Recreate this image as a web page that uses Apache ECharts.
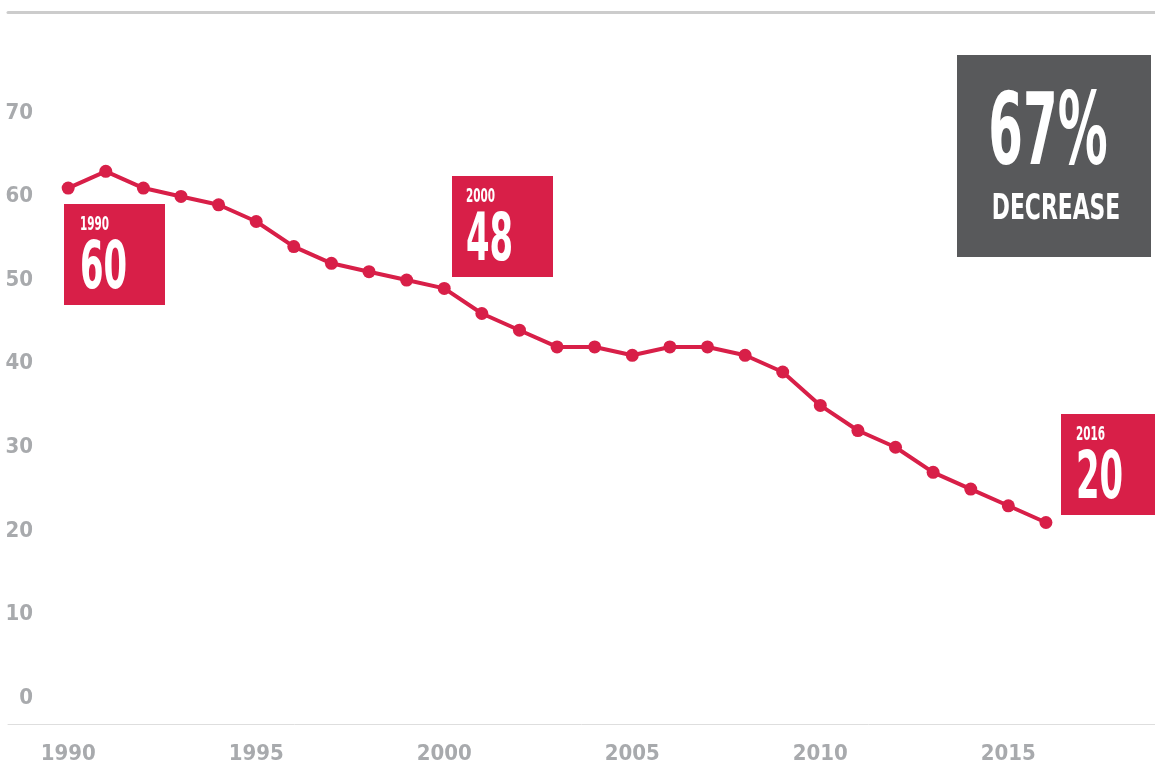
<!DOCTYPE html>
<html lang="en">
<head>
<meta charset="utf-8">
<title>Decrease 1990-2016</title>
<script src="https://cdn.jsdelivr.net/npm/echarts@6/dist/echarts.min.js"></script>
<style>
    html, body { margin: 0; padding: 0; background: #fff; }
    .chart_main { width: 1155px; height: 766px; }
</style>
</head>
<body>
<div class="chart_main"></div>

<script type="text/javascript">
    let years = [1990, 1991, 1992, 1993, 1994, 1995, 1996, 1997, 1998, 1999, 2000, 2001, 2002,
                 2003, 2004, 2005, 2006, 2007, 2008, 2009, 2010, 2011, 2012, 2013, 2014, 2015, 2016];
    let values = [61, 63, 61, 60, 59, 57, 54, 52, 51, 50, 49, 46, 44,
                  42, 42, 41, 42, 42, 41, 39, 35, 32, 30, 27, 25, 23, 21];
    let xTickLabels = [1990, 1995, 2000, 2005, 2010, 2015];
    let yTickLabels = [0, 10, 20, 30, 40, 50, 60, 70];

    let RED = '#d81f48';
    let GREY_BOX = '#58595b';
    let LABEL_GREY = '#a8aaad';
    let FONT = '"DejaVu Sans Condensed", "Liberation Sans Narrow", sans-serif';

    let lineData = years.map((y, i) => [y, values[i]]);

    // condensed white text inside a box (squeezed horizontally)
    function boxText(x, y, text, size, sx, align) {
        return {
            type: 'group',
            x: x,
            y: y,
            scaleX: sx,
            children: [{
                type: 'text',
                style: {
                    text: text,
                    font: 'bold ' + size + 'px ' + FONT,
                    fill: '#fff',
                    align: align || 'left',
                    verticalAlign: 'top'
                }
            }]
        };
    }

    let Chart = echarts.init(document.getElementsByClassName('chart_main')[0]);

    let option = {
        animation: false,
        grid: {
            left: 8,
            right: 0,
            top: 12.5,
            bottom: 42,
            outerBoundsMode: 'none'
        },
        xAxis: [{
            type: 'value',
            min: 1988.4,
            max: 2018.9,
            axisLine: { show: true, onZero: false, lineStyle: { color: '#dedede', width: 1 } },
            axisTick: { show: false },
            splitLine: { show: false },
            axisLabel: {
                customValues: xTickLabels,
                formatter: (v) => String(v),
                color: LABEL_GREY,
                fontFamily: FONT,
                fontWeight: 'bold',
                fontSize: 22,
                margin: 19
            }
        }, {
            type: 'value',
            position: 'top',
            min: 1988.4,
            max: 2018.9,
            axisLine: { show: true, onZero: false, lineStyle: { color: '#cccccc', width: 3 } },
            axisTick: { show: false },
            axisLabel: { show: false },
            splitLine: { show: false }
        }],
        yAxis: {
            type: 'value',
            min: -3.1,
            max: 82,
            axisLine: { show: false },
            axisTick: { show: false },
            splitLine: { show: false },
            axisLabel: {
                inside: true,
                customValues: yTickLabels,
                align: 'right',
                margin: 25,
                color: LABEL_GREY,
                fontFamily: FONT,
                fontWeight: 'bold',
                fontSize: 22
            }
        },
        series: [{
            type: 'line',
            xAxisIndex: 0,
            data: lineData,
            symbol: 'circle',
            symbolSize: 13,
            itemStyle: { color: RED },
            lineStyle: { color: RED, width: 4 },
            z: 3
        }],
        graphic: [
            { type: 'rect', shape: { x: 64, y: 204, width: 101, height: 101 }, style: { fill: RED } },
            boxText(80, 215, '1990', 20, 0.58),
            boxText(80, 238, '60', 66, 0.57),

            { type: 'rect', shape: { x: 452, y: 176, width: 101, height: 101 }, style: { fill: RED } },
            boxText(466, 187, '2000', 20, 0.58),
            boxText(466, 210, '48', 66, 0.57),

            { type: 'rect', shape: { x: 1061, y: 414, width: 94, height: 101 }, style: { fill: RED } },
            boxText(1076, 425, '2016', 20, 0.58),
            boxText(1076, 448, '20', 66, 0.57),

            { type: 'rect', shape: { x: 957, y: 55, width: 194, height: 202 }, style: { fill: GREY_BOX } },
            boxText(1048, 89, '67%', 99, 0.56, 'center'),
            boxText(1056, 192, 'DECREASE', 36, 0.675, 'center')
        ]
    };

    Chart.setOption(option);
</script>
</body>
</html>
